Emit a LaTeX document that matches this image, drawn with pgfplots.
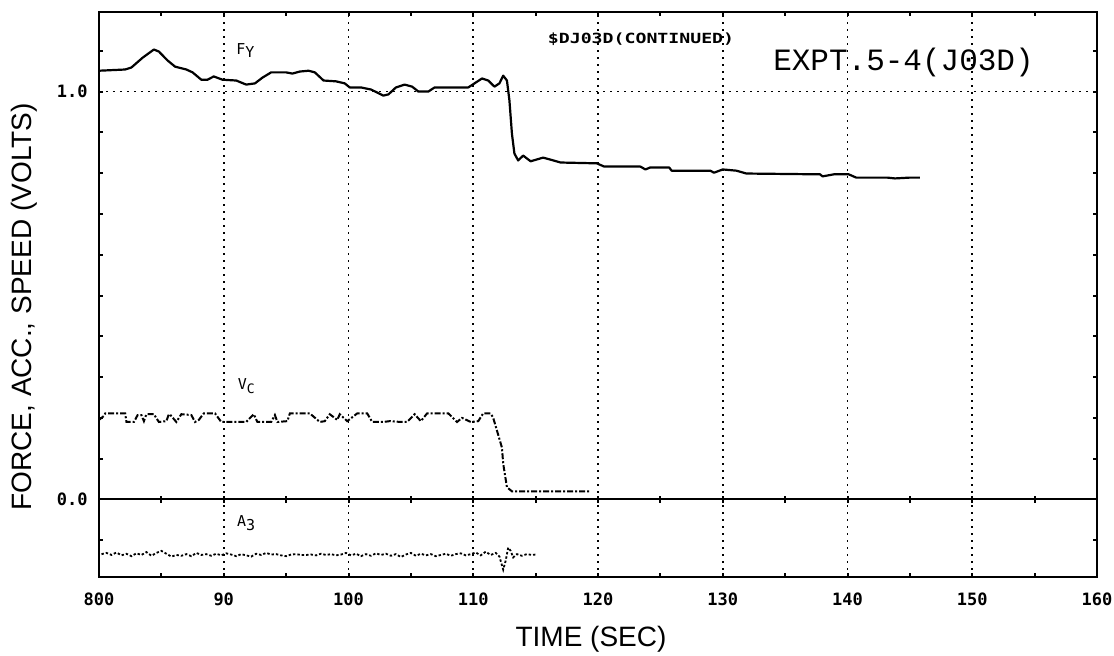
\documentclass[border=0pt]{standalone}
\usepackage{fontspec}
\setmainfont{Liberation Sans}
\newfontfamily\plotter{DejaVu Sans Mono}
\newfontfamily\typewriter{Liberation Mono}
\usepackage{graphicx}
\usepackage{pgfplots}
\pgfplotsset{compat=1.18}

% Force channel F_Y (volts)
\pgfplotstableread{
t v
80.0 1.051
82.1 1.054
82.6 1.059
83.5 1.083
84.4 1.103
84.8 1.098
85.5 1.076
86.1 1.061
87.0 1.054
87.5 1.047
88.2 1.029
88.7 1.029
89.2 1.037
89.9 1.029
91.0 1.027
91.8 1.017
92.5 1.020
93.1 1.034
93.8 1.047
95.0 1.047
95.5 1.044
96.1 1.049
96.8 1.051
97.3 1.047
98.0 1.027
99.0 1.025
99.7 1.020
100.1 1.010
101.0 1.010
101.8 1.005
102.8 0.990
103.2 0.993
103.8 1.010
104.5 1.017
105.1 1.012
105.6 1.000
106.4 1.000
106.9 1.010
107.7 1.010
109.6 1.010
110.1 1.020
110.7 1.032
111.2 1.027
111.7 1.012
112.1 1.020
112.4 1.039
112.7 1.027
112.9 0.978
113.1 0.897
113.3 0.848
113.6 0.831
114.0 0.843
114.6 0.829
115.6 0.838
116.2 0.833
117.0 0.826
119.9 0.824
120.5 0.816
123.4 0.816
123.8 0.809
124.2 0.814
125.7 0.814
125.9 0.806
129.0 0.806
129.3 0.801
130.0 0.809
131.1 0.806
131.9 0.799
137.8 0.797
138.0 0.792
138.9 0.797
140.1 0.797
140.7 0.789
143.2 0.789
143.8 0.787
145.0 0.789
145.8 0.789
}\fy

% Carriage speed V_C (volts)
\pgfplotstableread{
t v
80.0 0.195
80.4 0.205
80.5 0.211
81.4 0.211
82.1 0.211
82.2 0.190
82.8 0.190
83.1 0.207
83.4 0.207
83.6 0.192
83.8 0.209
84.4 0.209
84.8 0.190
85.4 0.192
85.6 0.209
85.7 0.208
86.2 0.190
86.6 0.209
87.4 0.207
87.7 0.190
88.0 0.195
88.4 0.211
89.3 0.211
89.8 0.190
91.8 0.190
92.4 0.209
92.7 0.190
93.8 0.190
94.1 0.207
94.3 0.190
95.1 0.192
95.3 0.211
96.9 0.211
97.7 0.190
98.1 0.192
98.5 0.209
99.1 0.195
99.3 0.209
99.9 0.192
100.7 0.211
101.5 0.211
101.9 0.190
102.8 0.190
103.3 0.192
104.2 0.190
104.7 0.190
105.3 0.209
105.8 0.192
106.3 0.211
108.0 0.211
108.7 0.190
109.1 0.200
109.8 0.190
110.4 0.192
110.8 0.211
111.4 0.211
111.6 0.200
111.9 0.169
112.3 0.127
112.4 0.088
112.7 0.030
113.1 0.020
119.4 0.020
}\vc

% Acceleration A_3 (volts)
\pgfplotstableread{
t v
80.2 -0.134
80.6 -0.131
81.0 -0.136
81.4 -0.130
81.8 -0.137
82.2 -0.133
82.6 -0.139
83.0 -0.132
83.4 -0.136
83.8 -0.129
84.2 -0.138
84.6 -0.131
85.0 -0.126
85.4 -0.133
85.8 -0.140
86.2 -0.136
86.6 -0.138
87.0 -0.134
87.4 -0.139
87.8 -0.131
88.2 -0.136
88.6 -0.134
89.0 -0.138
89.4 -0.133
89.8 -0.137
90.2 -0.132
90.6 -0.135
91.0 -0.139
91.4 -0.134
91.8 -0.137
92.2 -0.140
92.6 -0.133
93.0 -0.136
93.4 -0.131
93.8 -0.135
94.2 -0.134
94.6 -0.137
95.0 -0.139
95.4 -0.135
95.8 -0.134
96.2 -0.136
96.6 -0.136
97.0 -0.135
97.4 -0.137
97.8 -0.133
98.2 -0.136
98.6 -0.134
99.0 -0.137
99.4 -0.135
99.8 -0.131
100.2 -0.137
100.6 -0.133
101.0 -0.139
101.4 -0.134
101.8 -0.138
102.2 -0.132
102.6 -0.136
103.0 -0.133
103.4 -0.138
103.8 -0.134
104.2 -0.141
104.6 -0.135
105.0 -0.131
105.4 -0.138
105.8 -0.133
106.2 -0.137
106.6 -0.134
107.0 -0.139
107.4 -0.136
107.8 -0.133
108.2 -0.138
108.6 -0.134
109.0 -0.132
109.4 -0.137
109.8 -0.134
110.2 -0.130
110.6 -0.137
111.0 -0.128
111.4 -0.136
111.8 -0.131
112.1 -0.140
112.4 -0.172
112.6 -0.150
112.8 -0.118
113.0 -0.126
113.2 -0.142
113.5 -0.134
113.9 -0.138
114.3 -0.134
114.7 -0.136
115.0 -0.135
}\athree

\begin{document}
\begin{tikzpicture}
\useasboundingbox (0,0) rectangle (557pt,328pt);
\begin{axis}[
  at={(49.5pt,39.5pt)}, anchor=south west,
  scale only axis, width=499pt, height=282.5pt,
  xmin=80, xmax=160, ymin=-0.19, ymax=1.195,
  xtick={80,90,...,160},
  xticklabels={800,90,100,110,120,130,140,150,160},
  minor xtick={85,95,...,155},
  ytick={0,1}, yticklabels={0.0,1.0},
  minor ytick={-0.1,0.1,0.2,0.3,0.4,0.5,0.6,0.7,0.8,0.9,1.1},
  tick align=inside, tick pos=both, ticklabel pos=left,
  major tick length=2pt, minor tick length=2pt,
  tick style={black, line width=1pt},
  axis line style={line width=1pt},
  xmajorgrids, ymajorgrids,
  grid style={black, line width=0.9pt, dash pattern=on 0.9pt off 2.6pt},
  xticklabel style={font=\plotter\bfseries\fontsize{8.5}{10}\selectfont, yshift=-4.6pt},
  yticklabel style={font=\plotter\bfseries\fontsize{8.5}{10}\selectfont, xshift=-2.2pt},
  xlabel={TIME (SEC)}, ylabel={FORCE, ACC., SPEED (VOLTS)},
  every axis x label/.style={at={(axis description cs:0.493,-0.110)}, anchor=center,
    font=\fontsize{14}{16}\selectfont},
  every axis y label/.style={at={(axis description cs:-0.0752,0.478)}, anchor=center,
    rotate=90, font=\fontsize{14}{16}\selectfont},
  clip=false,
]
% zero line with its own tick crosses
\addplot[black, line width=1pt] coordinates {(80,0) (160,0)};
\addplot[only marks, mark=|, mark size=1.6pt, mark options={black, line width=1pt}]
  coordinates {(85,0) (90,0) (95,0) (100,0) (105,0) (110,0) (115,0) (120,0)
               (125,0) (130,0) (135,0) (140,0) (145,0) (150,0) (155,0)};

\addplot[black, line width=1.1pt, line join=round] table[x=t, y=v] {\fy};
\addplot[black, line width=1pt, dash pattern=on 3pt off 1pt on 1pt off 1pt] table[x=t, y=v] {\vc};
\addplot[black, line width=0.9pt, dash pattern=on 1.2pt off 1pt] table[x=t, y=v] {\athree};

\node[font=\plotter\fontsize{7.5}{9}\selectfont] at (axis cs:91.74,1.100) {F\raisebox{-1.5pt}{Y}};
\node[font=\plotter\fontsize{7.5}{9}\selectfont] at (axis cs:91.8,0.277) {V\raisebox{-2pt}{\fontsize{6.5}{8}\selectfont C}};
\node[font=\plotter\fontsize{7.5}{9}\selectfont] at (axis cs:91.8,-0.059) {A\raisebox{-2pt}{3}};
\node[anchor=base, inner sep=0pt] at (axis cs:123.45,1.118)
  {\scalebox{1.3}[1]{\plotter\bfseries\fontsize{7}{8}\selectfont\$DJ03D(CONTINUED)}};
\node[anchor=base, inner sep=0pt, font=\typewriter\fontsize{15.5}{17}\selectfont]
  at (axis cs:144.49,1.051) {EXPT.5-4(J03D)};
\end{axis}
\end{tikzpicture}
\end{document}
